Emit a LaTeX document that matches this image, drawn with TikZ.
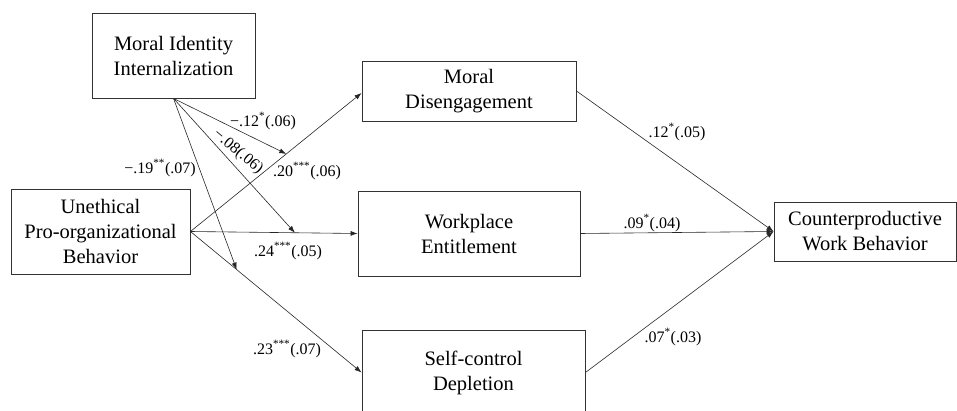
\documentclass[tikz,border=0pt]{standalone}
\usepackage{fontspec}
\setmainfont{Liberation Serif}
\usetikzlibrary{arrows.meta}
\begin{document}
\begin{tikzpicture}[x=1pt,y=-1pt,
 box/.style={draw=black!80,line width=0.9pt,inner sep=0pt,align=center,font=\fontsize{20.5}{25}\selectfont},
 lbl/.style={font=\fontsize{16}{18}\selectfont,inner sep=0pt},
 link/.style={draw=black!85,line width=0.6pt},
 arr/.style={link,-{Latex[length=7pt,width=5pt]}}]
\useasboundingbox (0,0) rectangle (957,411);
\clip (0,0) rectangle (957,411);
\node[box,minimum width=163pt,minimum height=85pt] (mii) at (173.5,55.5) {Moral Identity\\Internalization};
\node[box,minimum width=214pt,minimum height=60pt] (md) at (469,91) {Moral\\Disengagement};
\node[box,minimum width=179pt,minimum height=85pt] (upb) at (100.5,231.5) {Unethical\\Pro-organizational\\Behavior};
\node[box,minimum width=222pt,minimum height=85pt] (we) at (469,233.5) {Workplace\\Entitlement};
\node[box,minimum width=223pt,minimum height=85pt] (scd) at (473.5,372.5) {Self-control\\Depletion};
\node[box,minimum width=182pt,minimum height=59pt] (cwb) at (865,231.5) {Counterproductive\\Work Behavior};

\draw[arr] (upb.east) -- (md.west |- 0,93) coordinate[pos=0.56] (p1);
\draw[arr] (upb.east) -- (we.west) coordinate[pos=0.625] (p2);
\draw[arr] (upb.east) -- (scd.west) coordinate[pos=0.27] (p3);

\draw[arr] (mii.south) -- (p1);
\draw[arr] (mii.south) -- (p2);
\draw[arr] (mii.south) -- (p3);

\draw[arr] (md.east) -- (cwb.west);
\draw[arr] (we.east) -- (cwb.west);
\draw[arr] (scd.east) -- (cwb.west);

\node[lbl] (l1) at (263,121) {−.12\textsuperscript{*}(.06)};
\node[lbl,rotate=-40] (l2) at (238,152) {−.08(.06)};
\node[lbl] (l3) at (160,168) {−.19\textsuperscript{**}(.07)};
\node[lbl] (l4) at (307,171) {.20\textsuperscript{***}(.06)};
\node[lbl] (l5) at (288,251) {.24\textsuperscript{***}(.05)};
\node[lbl] (l6) at (287,349) {.23\textsuperscript{***}(.07)};
\node[lbl] (l7) at (677,132) {.12\textsuperscript{*}(.05)};
\node[lbl] (l8) at (652,223) {.09\textsuperscript{*}(.04)};
\node[lbl] (l9) at (673,337) {.07\textsuperscript{*}(.03)};
\end{tikzpicture}
\end{document}
